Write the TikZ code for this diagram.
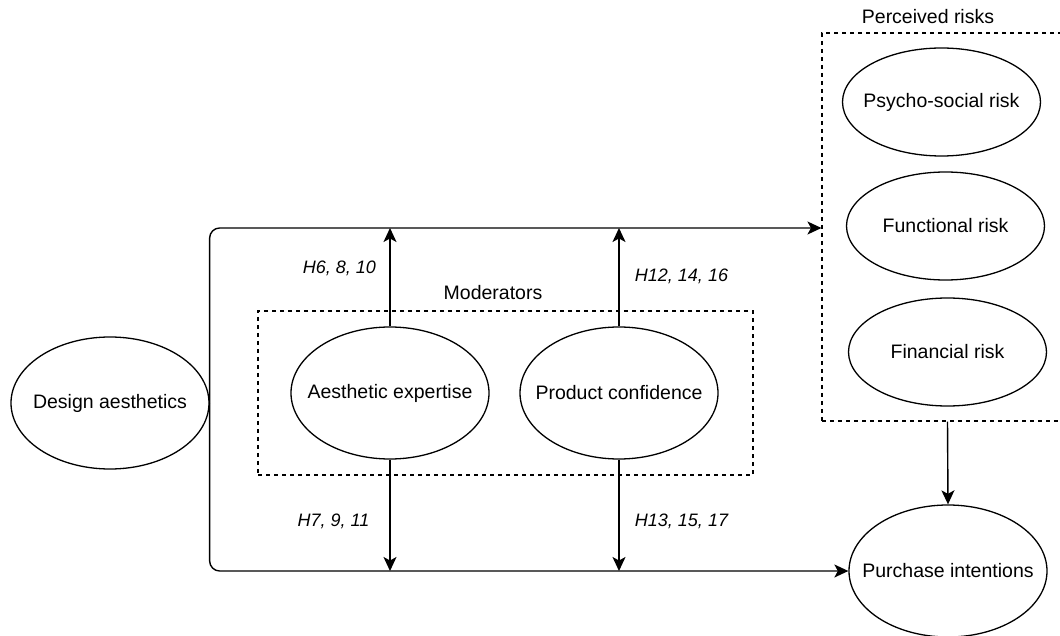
\documentclass[tikz,border=0pt]{standalone}
\usepackage{fontspec}
\setmainfont{Liberation Sans}
\usetikzlibrary{shapes.geometric,arrows.meta}
\newcommand{\ctext}[1]{\makebox[0pt]{#1}}
\begin{document}
\begin{tikzpicture}[x=1pt,y=-1pt,
  every node/.style={font=\fontsize{19.5}{23}\selectfont},
  oval/.style={draw, ellipse, line width=1.3pt, inner sep=0pt},
  big/.style={oval, minimum width=198pt, minimum height=132pt},
  small/.style={oval, minimum width=198pt, minimum height=108pt},
  dbox/.style={draw, dashed, line width=1.1pt, dash pattern=on 4pt off 4pt, inner sep=0pt},
  arr/.style={line width=1.4pt, -{Stealth[length=14pt, width=13pt, inset=3.5pt]}},
  hlab/.style={font=\fontsize{18}{22}\selectfont\itshape},
  grp/.style={}
]
\useasboundingbox (0,0) rectangle (1060,636);
% boxes
\node[dbox, minimum width=495pt, minimum height=164pt] (mbox) at (505.5,393) {};
\node[dbox, minimum width=242pt, minimum height=388pt] (pbox) at (943,227) {};
\node[grp] (mlab) at (493,293) {Moderators};
\node[grp] (plab) at (928,17) {Perceived risks};
% ellipses
\node[big] (da) at (110,403) {\ctext{Design aesthetics}};
\node[big] (ae) at (390,393) {\ctext{Aesthetic expertise}};
\node[big] (pc) at (619,393) {\ctext{Product confidence}};
\node[small] (ps) at (941.5,102) {\ctext{Psycho-social risk}};
\node[small] (fr) at (945.5,226) {\ctext{Functional risk}};
\node[small] (fi) at (947.5,352) {\ctext{Financial risk}};
\node[big] (pi) at (948,571) {\ctext{Purchase intentions}};
% coordinates
\coordinate (topend) at (pbox.west |- 0,228);
% main lines
\draw[arr, rounded corners=10pt] (da.east) |- (topend);
\draw[arr, rounded corners=10pt] (da.east) |- (pi.west);
% moderator arrows
\draw[arr] (ae.north) -- (ae.north |- topend);
\draw[arr] (pc.north) -- (pc.north |- topend);
\draw[arr] (ae.south) -- (ae.south |- pi.west);
\draw[arr] (pc.south) -- (pc.south |- pi.west);
% risks to intentions
\draw[arr] (fi.south |- pbox.south) -- (pi.north);
% labels
\node[hlab] (h6) at (339.5,268) {H6, 8, 10};
\node[hlab] (h12) at (681.5,276) {H12, 14, 16};
\node[hlab] (h7) at (333.5,521) {H7, 9, 11};
\node[hlab] (h13) at (681.5,521) {H13, 15, 17};
\end{tikzpicture}
\end{document}
